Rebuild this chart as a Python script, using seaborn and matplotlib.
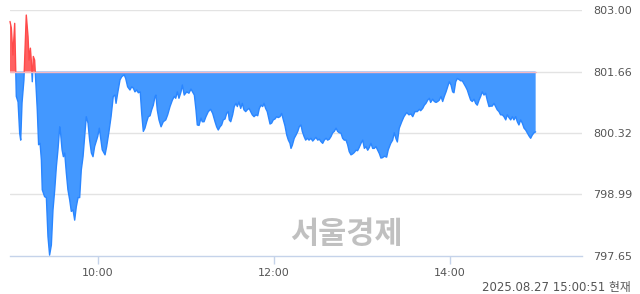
import numpy as np
import pandas as pd
import matplotlib
matplotlib.use("Agg")
import matplotlib.pyplot as plt
from matplotlib.patches import Rectangle
import seaborn as sns

# ---- data (minutes after 09:00, index value) ----
minutes = [0.0, 0.9, 2.0, 3.2, 4.3, 5.5, 6.6, 7.3, 8.2, 9.5, 11.1, 12.3, 13.0, 13.9, 14.5,
           15.2, 15.9, 16.8, 18.6, 19.5, 20.5, 21.4, 22.0, 23.6, 24.8, 25.9, 27.0, 28.2, 29.3,
           30.5, 31.6, 32.7, 33.9, 34.5, 35.5, 36.4, 37.3, 38.4, 39.5, 40.7, 41.8, 43.0, 44.1,
           45.2, 46.4, 47.5, 48.6, 49.8, 50.9, 52.0, 53.2, 54.3, 55.5, 56.6, 57.7, 59.8, 60.9,
           62.0, 62.9, 64.8, 65.9, 67.5, 68.9, 70.4, 71.6, 72.3, 73.4, 75.0, 76.2, 77.9, 78.9,
           80.2, 81.8, 83.0, 84.1, 85.2, 86.4, 87.5, 88.8, 89.8, 90.9, 92.0, 93.2, 94.3, 95.5,
           96.6, 97.7, 98.9, 99.5, 100.4, 101.6, 103.0, 104.5, 106.2, 107.5, 109.1, 110.7,
           112.0, 113.0, 114.1, 115.2, 116.6, 117.5, 118.8, 120.5, 122.0, 123.4, 125.0, 125.7,
           126.8, 127.7, 128.9, 130.2, 131.1, 132.3, 133.6, 135.2, 136.8, 138.2, 139.8, 140.9,
           142.0, 143.2, 144.3, 145.4, 146.6, 147.7, 148.8, 149.5, 150.5, 151.8, 152.9, 154.1,
           155.0, 156.1, 157.3, 158.4, 159.5, 160.7, 161.8, 163.0, 164.1, 165.2, 166.4, 167.7,
           168.9, 170.0, 171.1, 172.3, 173.2, 174.3, 175.4, 176.4, 177.3, 178.4, 179.5, 180.7,
           181.8, 182.9, 184.1, 185.2, 186.4, 187.5, 188.7, 189.8, 190.9, 191.6, 192.5, 193.8,
           195.0, 196.2, 197.2, 198.4, 199.3, 200.5, 201.6, 202.7, 203.9, 205.2, 206.4, 207.5,
           208.6, 209.8, 210.9, 212.0, 213.2, 214.3, 215.5, 216.6, 217.7, 218.9, 220.0, 221.1,
           222.3, 223.4, 224.5, 225.7, 226.8, 227.9, 229.1, 230.2, 231.3, 232.5, 233.6, 234.7,
           235.9, 237.0, 238.1, 239.3, 240.5, 241.6, 242.7, 243.9, 245.0, 246.1, 247.3, 248.4,
           249.5, 250.7, 251.8, 252.9, 254.1, 255.2, 256.8, 257.9, 259.6, 260.9, 262.0, 263.2,
           264.1, 265.4, 267.1, 268.6, 270.5, 272.0, 273.4, 274.6, 276.1, 277.7, 279.1, 280.0,
           281.4, 282.5, 283.6, 284.8, 285.9, 286.8, 288.2, 289.3, 290.5, 291.6, 292.7, 293.9,
           295.0, 296.1, 297.3, 298.4, 299.5, 300.7, 301.8, 302.7, 303.9, 305.0, 306.1, 307.3,
           308.4, 309.5, 310.7, 311.8, 312.9, 314.1, 315.2, 316.4, 317.5, 318.6, 319.8, 320.9,
           322.0, 323.2, 324.3, 325.4, 326.6, 327.7, 328.8, 330.0, 331.1, 332.2, 333.4, 334.5,
           335.7, 336.8, 338.0, 339.1, 340.2, 341.4, 342.5, 343.6, 344.8, 345.9, 347.0, 348.2,
           349.3, 350.5, 351.6, 352.7, 353.9, 355.0, 356.1, 357.3, 358.4]
prices = [802.75, 802.61, 802.02, 802.71, 801.12, 801.00, 800.32, 800.17, 800.98, 801.48,
          802.89, 802.42, 801.91, 802.17, 801.91, 801.44, 801.99, 801.91, 800.83, 800.07,
          800.10, 799.74, 799.09, 798.94, 798.92, 798.07, 797.67, 797.89, 798.65, 799.09,
          799.59, 799.96, 800.46, 800.32, 799.96, 799.81, 799.89, 799.46, 799.09, 798.87,
          798.62, 798.65, 798.43, 798.72, 798.92, 798.92, 799.52, 799.81, 800.25, 800.68,
          800.54, 800.17, 799.89, 799.81, 800.03, 800.25, 800.43, 800.17, 799.96, 799.85,
          800.03, 800.36, 800.68, 801.12, 801.15, 800.97, 801.19, 801.48, 801.55, 801.59,
          801.51, 801.33, 801.26, 801.33, 801.30, 801.22, 801.26, 801.20, 801.22, 800.75,
          800.36, 800.43, 800.57, 800.68, 800.70, 800.83, 800.93, 801.12, 801.15, 800.83,
          800.61, 800.46, 800.57, 800.61, 800.72, 800.90, 801.04, 801.12, 801.08, 801.22,
          801.08, 801.22, 801.37, 801.15, 801.22, 801.19, 801.28, 801.19, 801.15, 800.83,
          800.50, 800.49, 800.65, 800.57, 800.57, 800.68, 800.79, 800.84, 800.75, 800.57,
          800.46, 800.39, 800.46, 800.50, 800.61, 800.63, 800.75, 800.79, 800.61, 800.57,
          800.72, 800.90, 800.97, 800.90, 801.00, 800.86, 800.97, 800.83, 800.79, 800.83,
          800.86, 800.79, 800.72, 800.68, 800.72, 800.70, 800.86, 800.93, 800.90, 800.97,
          800.86, 800.79, 800.65, 800.52, 800.54, 800.61, 800.63, 800.68, 800.66, 800.68,
          800.75, 800.61, 800.48, 800.28, 800.17, 800.10, 799.99, 800.06, 800.21, 800.28,
          800.36, 800.46, 800.50, 800.36, 800.25, 800.17, 800.21, 800.17, 800.21, 800.15,
          800.19, 800.23, 800.17, 800.19, 800.14, 800.10, 800.17, 800.21, 800.17, 800.19,
          800.25, 800.33, 800.36, 800.43, 800.36, 800.33, 800.32, 800.21, 800.17, 800.17,
          800.07, 799.92, 799.85, 799.87, 799.90, 799.95, 799.94, 800.01, 800.10, 800.17,
          799.99, 800.03, 799.95, 800.01, 800.10, 799.99, 799.99, 800.03, 799.95, 799.88,
          799.78, 799.79, 799.82, 799.80, 799.96, 800.10, 800.17, 800.33, 800.20, 800.13,
          800.43, 800.57, 800.68, 800.77, 800.72, 800.74, 800.68, 800.79, 800.79, 800.84,
          800.81, 800.86, 800.93, 800.97, 801.04, 801.08, 800.99, 801.06, 801.01, 800.99,
          801.01, 801.04, 801.12, 801.01, 801.12, 801.22, 801.33, 801.44, 801.37, 801.22,
          801.20, 801.44, 801.51, 801.49, 801.46, 801.46, 801.40, 801.33, 801.26, 801.15,
          801.04, 801.01, 801.06, 800.97, 800.93, 801.04, 801.12, 801.22, 801.15, 801.19,
          801.04, 800.90, 800.91, 800.91, 800.97, 800.90, 800.83, 800.79, 800.72, 800.72,
          800.68, 800.61, 800.72, 800.66, 800.61, 800.68, 800.61, 800.68, 800.57, 800.50,
          800.61, 800.54, 800.43, 800.39, 800.33, 800.26, 800.21, 800.28, 800.33, 800.35]
prev_close = 801.66
y_ticks = [797.65, 798.99, 800.32, 801.66, 803.00]
x_tick_minutes = [60, 180, 300]
x_tick_labels = ["10:00", "12:00", "14:00"]
stamp = "2025.08.27 15:00:51 현재"
watermark = "서울경제"

df = pd.DataFrame({"t": minutes, "v": prices})

sns.set_theme(style="white")
plt.rcParams["font.family"] = ["DejaVu Sans", "Noto Sans CJK KR"]

fig = plt.figure(figsize=(6.4, 2.94), dpi=100)
ax = fig.add_axes([10 / 640, 1 - 256 / 294, 572 / 640, 246 / 294])

grid_c = "#e3e3e3"
for yt in y_ticks[1:]:
    ax.axhline(yt, color=grid_c, lw=1.0, zorder=0)

t = df["t"].to_numpy()
v = df["v"].to_numpy()
ax.fill_between(t, v, prev_close, where=v >= prev_close, interpolate=True,
                color="#ff6262", lw=0, zorder=2)
ax.fill_between(t, v, prev_close, where=v <= prev_close, interpolate=True,
                color="#4398ff", lw=0, zorder=2)

ax.set_xlim(0, 390)
ax.set_ylim(797.65, 803.00)

# price line, coloured by side of the previous close (clipped)
n0 = len(ax.lines)
sns.lineplot(data=df, x="t", y="v", ax=ax, color="#ff4a4a", lw=1.0, zorder=3)
sns.lineplot(data=df, x="t", y="v", ax=ax, color="#2a86ff", lw=1.0, zorder=3)
red_line, blue_line = ax.lines[n0], ax.lines[n0 + 1]
up_rect = Rectangle((-10, prev_close), 420, 10, transform=ax.transData,
                    facecolor="none", edgecolor="none")
dn_rect = Rectangle((-10, prev_close - 10), 420, 10, transform=ax.transData,
                    facecolor="none", edgecolor="none")
red_line.set_clip_path(up_rect)
blue_line.set_clip_path(dn_rect)

ax.plot([t[0], t[-1]], [prev_close, prev_close], color="#f5b8c2", lw=1.0, zorder=4)

for s in ["top", "left", "right"]:
    ax.spines[s].set_visible(False)
ax.spines["bottom"].set_color("#c5d3ea")
ax.spines["bottom"].set_linewidth(1.0)

ax.set_xticks(x_tick_minutes)
ax.set_xticklabels(x_tick_labels)
ax.tick_params(axis="x", length=6, width=1, color="#c5d3ea", labelsize=8,
               labelcolor="#555555", pad=3, bottom=True)

ax.yaxis.tick_right()
ax.set_yticks(y_ticks)
ax.set_yticklabels([f"{y:.2f}" for y in y_ticks])
ax.tick_params(axis="y", length=0, labelsize=8, labelcolor="#555555", pad=36, right=True)
for lab in ax.get_yticklabels():
    lab.set_horizontalalignment("right")

ax.set_xlabel("")
ax.set_ylabel("")

fig.text(346 / 640, 1 - 234 / 294, watermark, ha="center", va="center",
         fontsize=22, fontweight="bold", color="#c0c0c0",
         family=["Noto Sans CJK KR", "DejaVu Sans"], zorder=10)
fig.text(631 / 640, 1 - 287 / 294, stamp, ha="right", va="center", fontsize=8.5,
         color="#555555", family=["DejaVu Sans", "Noto Sans CJK KR"])

fig.savefig("out.png", dpi=100)
